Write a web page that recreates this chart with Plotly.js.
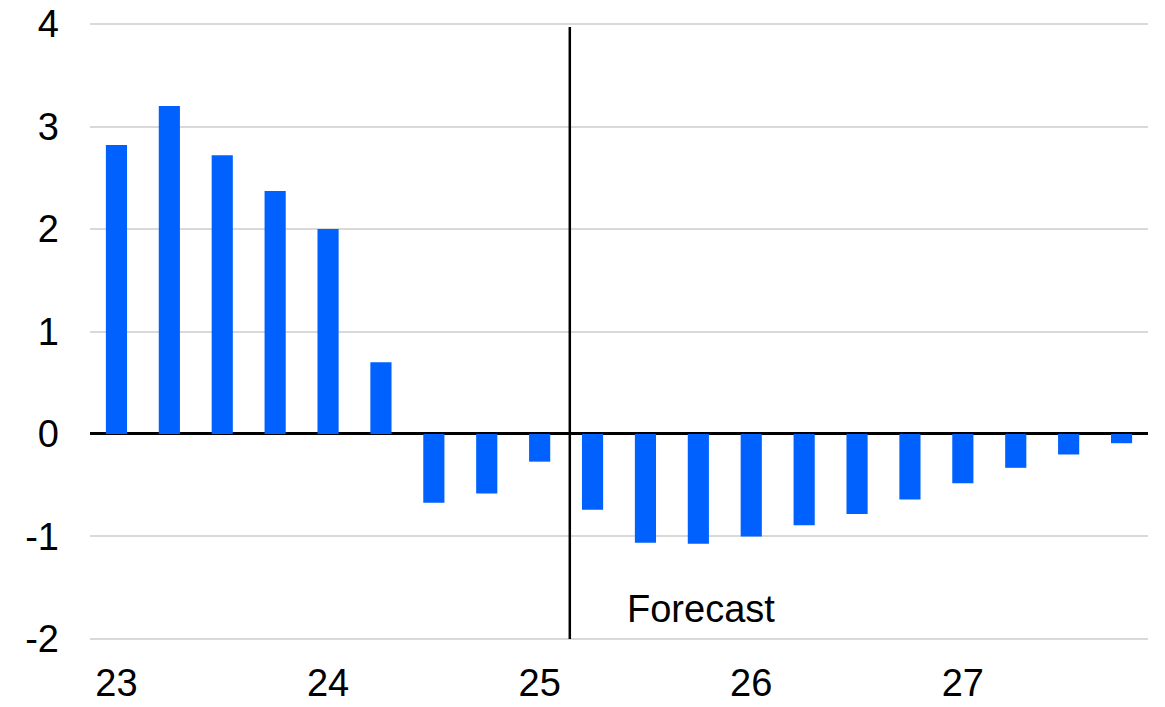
<!DOCTYPE html>
<html>
<head>
<meta charset="utf-8">
<script src="https://cdn.plot.ly/plotly-3.0.1.min.js"></script>
<style>html,body{margin:0;padding:0;background:#fff;}#chart{width:1165px;height:707px;}</style>
</head>
<body>
<div id="chart"></div>
<script>
const quarters = ["2023Q1","2023Q2","2023Q3","2023Q4","2024Q1","2024Q2","2024Q3","2024Q4",
                  "2025Q1","2025Q2","2025Q3","2025Q4","2026Q1","2026Q2","2026Q3","2026Q4",
                  "2027Q1","2027Q2","2027Q3","2027Q4"];
const values = [2.82, 3.20, 2.72, 2.37, 2.00, 0.70, -0.67, -0.58,
                -0.27, -0.74, -1.06, -1.07, -1.00, -0.89, -0.78, -0.64,
                -0.48, -0.33, -0.20, -0.09];
const tickCats = ["2023Q1","2024Q1","2025Q1","2026Q1","2027Q1"];
const tickLabels = ["23","24","25","26","27"];
const yTickVals = [-2, -1, 0, 1, 2, 3, 4];
const yTickLabels = ["-2", "-1", "0", "1", "2", "3", "4"];
const forecastStart = 8.57;
const forecastLabel = "Forecast";

const font = {family: "Liberation Sans, Arial, sans-serif", size: 38, color: "#000"};

Plotly.newPlot("chart", [{
  type: "bar",
  x: quarters,
  y: values,
  marker: {color: "#0061fe", line: {width: 0}},
  hoverinfo: "x+y"
}], {
  width: 1165, height: 707,
  margin: {l: 90, r: 17, t: 23, b: 67},
  paper_bgcolor: "#fff", plot_bgcolor: "#fff",
  font: font,
  bargap: 0.6,
  showlegend: false,
  xaxis: {
    type: "category",
    range: [-0.5, 19.5],
    tickvals: tickCats,
    ticktext: tickLabels,
    showgrid: false, zeroline: false, showline: false,
    ticks: "", ticklabelstandoff: 17,
    tickfont: font
  },
  yaxis: {
    range: [-2.01, 4.01],
    tickvals: yTickVals,
    ticktext: yTickLabels,
    showgrid: true, gridcolor: "#d9d9d9", gridwidth: 2,
    zeroline: true, zerolinecolor: "#000", zerolinewidth: 3,
    showline: false, ticks: "", ticklabelstandoff: 30,
    tickfont: font
  },
  shapes: [{
    type: "line", xref: "x", yref: "y",
    x0: forecastStart, x1: forecastStart, y0: -2, y1: 3.97,
    line: {color: "#000", width: 2.5}
  }],
  annotations: [{
    xref: "x", yref: "y", x: 9.62, y: -1.71,
    xanchor: "left", yanchor: "middle",
    text: forecastLabel, showarrow: false, font: font
  }]
}, {staticPlot: true});
</script>
</body>
</html>
